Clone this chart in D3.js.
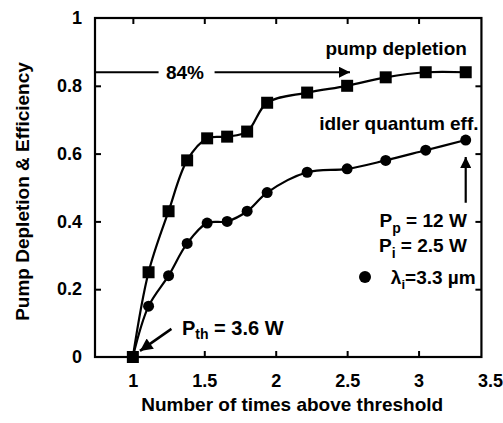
<!DOCTYPE html>
<html>
<head>
<meta charset="utf-8">
<script src="https://cdn.jsdelivr.net/npm/d3@7"></script>
<style>
  body { margin: 0; background: #fff; }
  text { font-family: "Liberation Sans", Arial, Helvetica, sans-serif; font-weight: bold; fill: #000; }
</style>
</head>
<body>
<script>
// number of times above threshold (shared by both series)
const timesAbove = [1, 1.11, 1.25, 1.38, 1.52, 1.66, 1.80, 1.94, 2.22, 2.50, 2.77, 3.05, 3.33]
const pumpDepletion = [0, 0.25, 0.43, 0.58, 0.645, 0.65, 0.665, 0.75, 0.78, 0.80, 0.825, 0.84, 0.84]
const idlerEff = [0, 0.15, 0.24, 0.335, 0.395, 0.40, 0.43, 0.485, 0.545, 0.555, 0.58, 0.61, 0.64]

const xTicks = [1, 1.5, 2, 2.5, 3, 3.5]
const xTickLabels = ['1', '1.5', '2', '2.5', '3', '3.5']
const yTicks = [0, 0.2, 0.4, 0.6, 0.8, 1]
const yTickLabels = ['0', '0.2', '0.4', '0.6', '0.8', '1']

let svgWidth = 503
let svgHeight = 423

var svg = d3.select('body')
    .append('svg')
    .attr('width', svgWidth)
    .attr('height', svgHeight)

var x = d3.scaleLinear().domain([0.735, 3.5]).range([95, 490])
var y = d3.scaleLinear().domain([0, 1]).range([357, 18])

// plot frame stops a little short of the 3.5 label
var frameLeft = x(0.735), frameRight = x(3.44)

svg.append('defs').append('marker')
    .attr('id', 'arrow')
    .attr('viewBox', '0 0 10 10')
    .attr('refX', 10).attr('refY', 5)
    .attr('markerWidth', 6).attr('markerHeight', 5)
    .attr('markerUnits', 'strokeWidth')
    .attr('orient', 'auto')
    .append('path')
    .attr('d', 'M0,0 L10,5 L0,10 z')
    .attr('fill', '#000')

// frame
svg.append('rect')
    .attr('x', frameLeft).attr('y', y(1))
    .attr('width', frameRight - frameLeft)
    .attr('height', y(0) - y(1))
    .attr('fill', 'none').attr('stroke', '#000').attr('stroke-width', 2.2)

function styleAxis(g) {
    g.select('.domain').remove()
    g.selectAll('.tick line').attr('stroke', '#000').attr('stroke-width', 2)
    g.selectAll('.tick text').attr('font-size', 18).style('font-family', null)
}

svg.append('g')
    .attr('transform', `translate(0,${y(0)})`)
    .call(d3.axisBottom(x).tickValues(xTicks).tickFormat((d, i) => xTickLabels[i]).tickSize(-6).tickPadding(17))
    .call(styleAxis)
    .call(g => g.selectAll('.tick line').filter(d => d === 1 || d === 3.5).remove())

svg.append('g')
    .attr('transform', `translate(0,${y(1)})`)
    .call(d3.axisTop(x).tickValues(xTicks.filter(d => d < 3.5)).tickSize(-6).tickFormat(''))
    .call(styleAxis)

svg.append('g')
    .attr('transform', `translate(${frameLeft},0)`)
    .call(d3.axisLeft(y).tickValues(yTicks).tickFormat((d, i) => yTickLabels[i]).tickSize(-6).tickPadding(13))
    .call(styleAxis)
    .call(g => g.selectAll('.tick line').filter(d => d === 0 || d === 1).remove())

svg.append('g')
    .attr('transform', `translate(${frameRight},0)`)
    .call(d3.axisRight(y).tickValues(yTicks.filter(d => d > 0 && d < 1)).tickSize(-6).tickFormat(''))
    .call(styleAxis)

// axis titles
svg.append('text')
    .attr('x', (frameLeft + frameRight) / 2 + 4)
    .attr('y', 411)
    .attr('text-anchor', 'middle')
    .attr('font-size', 19)
    .text('Number of times above threshold')

svg.append('text')
    .attr('transform', `translate(29,${(y(0) + y(1)) / 2 + 4}) rotate(-90)`)
    .attr('text-anchor', 'middle')
    .attr('font-size', 19)
    .text('Pump Depletion & Efficiency')

// curves
var line = d3.line().curve(d3.curveCatmullRom.alpha(0.5))

var pumpPts = timesAbove.map((t, i) => [x(t), y(pumpDepletion[i])])
var idlerPts = timesAbove.map((t, i) => [x(t), y(idlerEff[i])])

svg.append('path').attr('d', line(idlerPts))
    .attr('fill', 'none').attr('stroke', '#000').attr('stroke-width', 2.2)
svg.append('path').attr('d', line(pumpPts))
    .attr('fill', 'none').attr('stroke', '#000').attr('stroke-width', 2.2)

svg.append('g').selectAll('circle')
    .data(idlerPts)
    .enter().append('circle')
    .attr('cx', d => d[0]).attr('cy', d => d[1]).attr('r', 5.5)
    .attr('fill', '#000')

let sq = 12
svg.append('g').selectAll('rect')
    .data(pumpPts)
    .enter().append('rect')
    .attr('x', d => d[0] - sq / 2).attr('y', d => d[1] - sq / 2)
    .attr('width', sq).attr('height', sq)
    .attr('fill', '#000')

// 84% arrow
svg.append('line')
    .attr('x1', frameLeft).attr('y1', y(0.84))
    .attr('x2', x(2.52)).attr('y2', y(0.84))
    .attr('stroke', '#000').attr('stroke-width', 2.2)
    .attr('marker-end', 'url(#arrow)')
svg.append('rect')
    .attr('x', x(1.18)).attr('y', y(0.84) - 10)
    .attr('width', 56).attr('height', 20)
    .attr('fill', '#fff')
svg.append('text')
    .attr('x', x(1.365)).attr('y', y(0.84) + 7)
    .attr('text-anchor', 'middle')
    .attr('font-size', 19)
    .text('84%')

svg.append('text')
    .attr('x', x(3.338)).attr('y', y(0.891))
    .attr('text-anchor', 'end')
    .attr('font-size', 19)
    .text('pump depletion')

svg.append('text')
    .attr('x', x(3.42)).attr('y', y(0.67))
    .attr('text-anchor', 'end')
    .attr('font-size', 19)
    .text('idler quantum eff.')

// vertical arrow to last idler point
svg.append('line')
    .attr('x1', x(3.33)).attr('y1', y(0.455))
    .attr('x2', x(3.33)).attr('y2', y(0.59))
    .attr('stroke', '#000').attr('stroke-width', 2.2)
    .attr('marker-end', 'url(#arrow)')

var pp = svg.append('text')
    .attr('x', x(3.338)).attr('y', y(0.383))
    .attr('text-anchor', 'end')
    .attr('font-size', 19)
pp.append('tspan').text('P')
pp.append('tspan').attr('font-size', 14).attr('dy', 6).text('p')
pp.append('tspan').attr('dy', -6).text(' = 12 W')

var pi = svg.append('text')
    .attr('x', x(3.338)).attr('y', y(0.31))
    .attr('text-anchor', 'end')
    .attr('font-size', 19)
pi.append('tspan').text('P')
pi.append('tspan').attr('font-size', 14).attr('dy', 6).text('i')
pi.append('tspan').attr('dy', -6).text('  = 2.5 W')

svg.append('circle')
    .attr('cx', x(2.625)).attr('cy', y(0.236)).attr('r', 6)
    .attr('fill', '#000')
var lam = svg.append('text')
    .attr('x', x(3.40)).attr('y', y(0.215))
    .attr('text-anchor', 'end')
    .attr('font-size', 19)
lam.append('tspan').text('λ')
lam.append('tspan').attr('font-size', 13).attr('dy', 5).text('i')
lam.append('tspan').attr('dy', -5).text('=3.3 µm')

// threshold label and arrow
var pth = svg.append('text')
    .attr('x', x(1.344)).attr('y', y(0.065))
    .attr('font-size', 20)
pth.append('tspan').text('P')
pth.append('tspan').attr('font-size', 14).attr('dy', 4).text('th')
pth.append('tspan').attr('dy', -4).text(' = 3.6 W')

svg.append('line')
    .attr('x1', x(1.27)).attr('y1', y(0.083))
    .attr('x2', x(1.05)).attr('y2', y(0.018))
    .attr('stroke', '#000').attr('stroke-width', 2.5)
    .attr('marker-end', 'url(#arrow)')
</script>
</body>
</html>
